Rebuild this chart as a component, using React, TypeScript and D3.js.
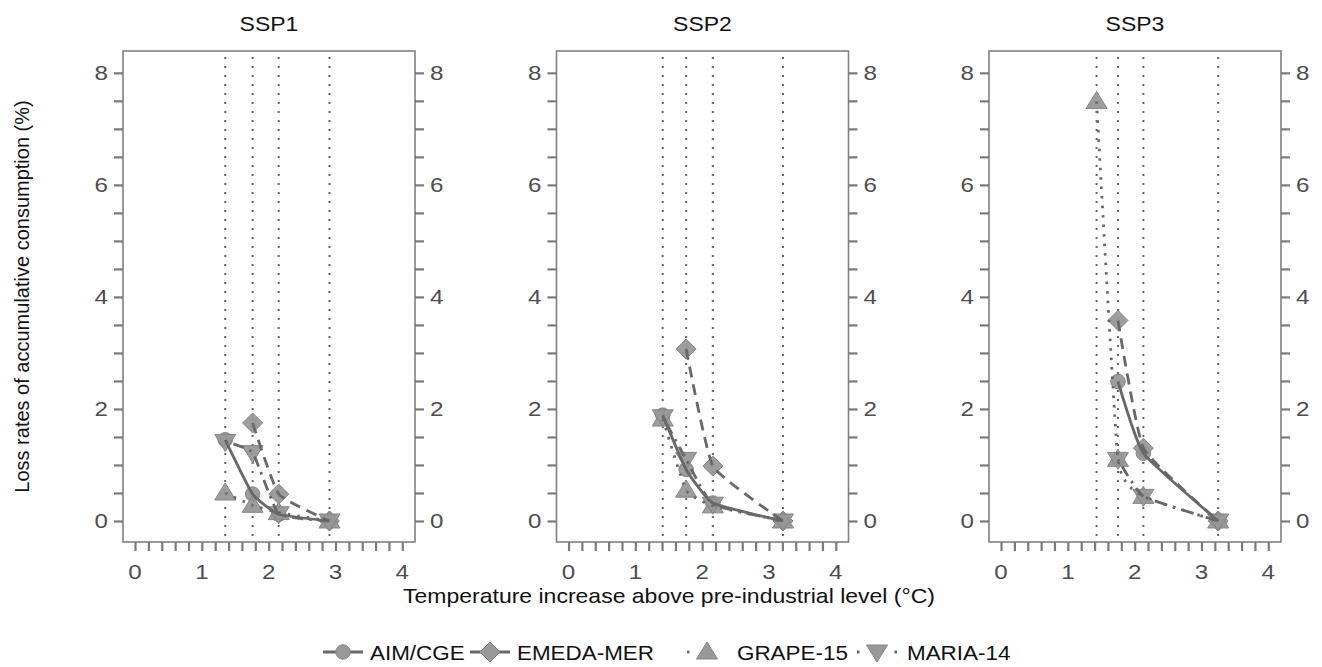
import React, { useEffect, useRef } from 'react'
import * as d3 from 'd3'

// temperature (x) for each SSP's four scenarios
const panels = ['SSP1', 'SSP2', 'SSP3']
const temps = [
  [1.35, 1.76, 2.15, 2.91],
  [1.41, 1.76, 2.16, 3.21],
  [1.43, 1.75, 2.13, 3.25],
]

const models = ['AIM/CGE', 'EMEDA-MER', 'GRAPE-15', 'MARIA-14']

// loss rates per model, per panel (null = no run)
const aimCge = [
  [1.45, 0.48, 0.12, 0],
  [1.89, 0.92, 0.32, 0],
  [null, 2.49, 1.21, 0],
]
const emedaMer = [
  [null, 1.75, 0.48, 0],
  [null, 3.07, 0.98, 0],
  [null, 3.58, 1.3, 0],
]
const grape15 = [
  [0.5, 0.28, 0.15, 0],
  [1.82, 0.55, 0.27, 0],
  [7.49, 1.1, 0.44, 0],
]
const maria14 = [
  [1.42, 1.22, 0.13, 0],
  [1.86, 1.1, 0.3, 0],
  [null, 1.1, 0.44, 0],
]
const seriesValues = [aimCge, emedaMer, grape15, maria14]

const yLabels = [0, 2, 4, 6, 8]
const xLabels = [0, 1, 2, 3, 4]

const W = 1322, H = 667
const SX = 1.15
const panelLeft = [123, 556.5, 989]
const panelW = 292
const top = 51, bottom = 542
const lineColor = '#686868'
const dashes = [null, '11 7', '2.5 7', '2.5 6 11 6']
const legendDashes = [null, null, '2.5 60', '2.5 35 2.5 10']
const legendX = [323, 470, 687, 857]

const markerPath = (k: number) => {
  if (k === 0) return d3.symbol(d3.symbolCircle, 165)()
  if (k === 1) return 'M0,-10L10,0L0,10L-10,0Z'
  if (k === 2) return 'M0,-10L10.5,7L-10.5,7Z'
  return 'M0,10L10.5,-7L-10.5,-7Z'
}

export default function App() {
  const ref = useRef<SVGSVGElement>(null)

  useEffect(() => {
    document.body.style.margin = '0'
    const svg = d3.select(ref.current)
    svg.selectAll('*').remove()
    const font = '"Liberation Sans", Arial, sans-serif'

    const text = (x: number, y: number, s: string, anchor = 'middle', fill = '#000', size = 20) =>
      svg.append('g').attr('transform', `translate(${x},${y}) scale(${SX},1)`)
        .append('text')
        .attr('text-anchor', anchor)
        .attr('font-family', font)
        .attr('font-size', size)
        .attr('fill', fill)
        .text(s)

    const y = d3.scaleLinear().domain([-0.375, 8.39]).range([bottom, top])

    panels.forEach((name, p) => {
      const left = panelLeft[p]
      const x = d3.scaleLinear().domain([-0.18, 4.19]).range([left, left + panelW])
      const g = svg.append('g')

      // vertical dotted guides
      g.append('g').selectAll('line').data(temps[p]).join('line')
        .attr('x1', d => x(d)).attr('x2', d => x(d))
        .attr('y1', top + 6).attr('y2', bottom)
        .attr('stroke', '#666').attr('stroke-width', 2)
        .attr('stroke-dasharray', '2 7')

      // points
      seriesValues.forEach((vals, k) => {
        const pts = temps[p].map((t, i) => ({ t, v: vals[p][i] })).filter(d => d.v != null)
        g.append('g').selectAll('path').data(pts).join('path')
          .attr('d', markerPath(k))
          .attr('transform', d => `translate(${x(d.t)},${y(d.v as number)})`)
          .attr('fill', '#989898').attr('fill-opacity', 0.95)
          .attr('stroke', '#858585').attr('stroke-width', 1)
      })

      // lines
      seriesValues.forEach((vals, k) => {
        const pts = temps[p].map((t, i) => ({ t, v: vals[p][i] })).filter(d => d.v != null)
        const line = d3.line<{ t: number, v: number | null }>()
          .x(d => x(d.t)).y(d => y(d.v as number))
          .curve(d3.curveCardinal.tension(0.6))
        g.append('path').attr('d', line(pts))
          .attr('fill', 'none').attr('stroke', lineColor).attr('stroke-width', 2.8)
          .attr('stroke-dasharray', dashes[k])
      })

      // frame
      g.append('rect').attr('x', left).attr('y', top).attr('width', panelW).attr('height', bottom - top)
        .attr('fill', 'none').attr('stroke', '#808080').attr('stroke-width', 1.6)

      // axes
      const xAxis = d3.axisBottom(x).tickValues(d3.range(0, 21).map(i => i / 5)).tickSize(9).tickFormat(() => '')
      const gx = g.append('g').attr('transform', `translate(0,${bottom})`).call(xAxis)
      const yVals = d3.range(0, 17).map(i => i / 2)
      const gl = g.append('g').attr('transform', `translate(${left},0)`)
        .call(d3.axisLeft(y).tickValues(yVals).tickSize(9).tickFormat(() => ''))
      const gr = g.append('g').attr('transform', `translate(${left + panelW},0)`)
        .call(d3.axisRight(y).tickValues(yVals).tickSize(9).tickFormat(() => ''))
      for (const a of [gx, gl, gr]) {
        a.select('.domain').remove()
        a.selectAll('line').attr('stroke', '#7a7a7a').attr('stroke-width', 2.2)
      }

      xLabels.forEach(v => text(x(v), 579, String(v), 'middle', '#4d4d4d', 21))
      yLabels.forEach(v => {
        text(left - 15, y(v) + 7.5, String(v), 'end', '#4d4d4d', 21)
        text(left + panelW + 15, y(v) + 7.5, String(v), 'start', '#4d4d4d', 21)
      })

      text(left + panelW / 2, 31, name, 'middle', '#111', 20)
    })

    text(669, 603, 'Temperature increase above pre-industrial level (\u00B0C)', 'middle', '#111', 20)
    svg.append('text')
      .attr('transform', `translate(29,${(top + bottom) / 2}) rotate(-90)`)
      .attr('text-anchor', 'middle')
      .attr('font-family', font).attr('font-size', 20).attr('fill', '#111')
      .text('Loss rates of accumulative consumption (%)')

    // legend
    models.forEach((m, k) => {
      const lx = legendX[k], ly = 652
      svg.append('line').attr('x1', lx).attr('x2', lx + 40).attr('y1', ly).attr('y2', ly)
        .attr('stroke', lineColor).attr('stroke-width', 2.8)
        .attr('stroke-dasharray', legendDashes[k])
      svg.append('path').attr('d', markerPath(k))
        .attr('transform', `translate(${lx + 20},${ly})`)
        .attr('fill', '#989898').attr('stroke', '#858585')
      text(lx + (k >= 2 ? 50 : 47), ly + 7.5, m, 'start', '#111', 19.5)
    })
  }, [])

  return <svg ref={ref} width={W} height={H} style={{ display: 'block', background: '#fff' }} />
}
